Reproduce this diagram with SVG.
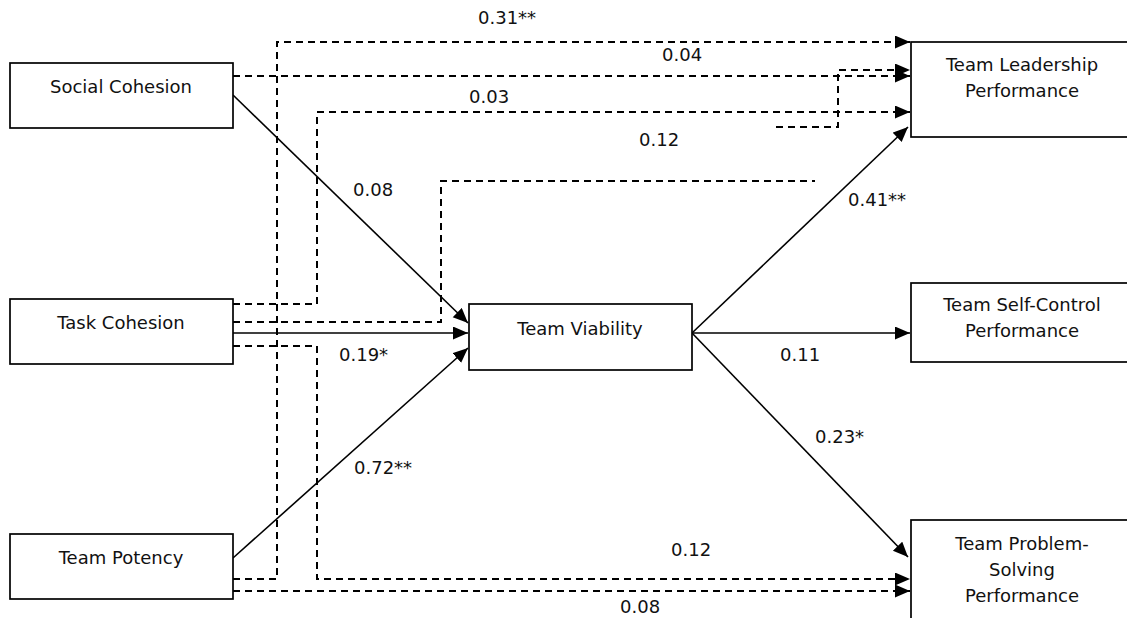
<svg xmlns="http://www.w3.org/2000/svg" width="1127" height="618" viewBox="0 0 1127 618">
<style>
.box{fill:#fff;stroke:#000;stroke-width:1.7}
.t{font-family:"DejaVu Sans",Verdana,sans-serif;font-size:18px;fill:#111;text-anchor:middle}
.lbl{font-family:"DejaVu Sans",Verdana,sans-serif;font-size:18px;fill:#111}
.solid{fill:none;stroke:#000;stroke-width:1.6}
.dash{fill:none;stroke:#000;stroke-width:2;stroke-dasharray:7 5}
</style>
<defs>
<marker id="ah" markerUnits="userSpaceOnUse" markerWidth="16" markerHeight="14" refX="15" refY="6.5" orient="auto">
<path d="M0,0 L15,6.5 L0,13 z" fill="#000"/>
</marker>
</defs>
<g id="connectors">
<path class="solid" d="M233,95 L468,323" marker-end="url(#ah)"/>
<path class="solid" d="M233,333 L468,333" marker-end="url(#ah)"/>
<path class="solid" d="M233,558 L468,348" marker-end="url(#ah)"/>
<path class="solid" d="M692,333 L908,127" marker-end="url(#ah)"/>
<path class="solid" d="M692,333 L910,333" marker-end="url(#ah)"/>
<path class="solid" d="M692,333 L908,557" marker-end="url(#ah)"/>
<path class="dash" d="M233,579 L277,579 L277,42 L910,42" marker-end="url(#ah)"/>
<path class="dash" d="M233,76 L910,76" marker-end="url(#ah)"/>
<path class="dash" d="M233,304 L317,304 L317,112 L910,112" marker-end="url(#ah)"/>
<path class="dash" d="M233,322 L441,322 L441,181 L815,181"/>
<path class="dash" d="M776,127 L838,127 L838,70 L910,70" marker-end="url(#ah)"/>
<path class="dash" d="M233,346 L317,346 L317,579 L910,579" marker-end="url(#ah)"/>
<path class="dash" d="M233,591 L910,591" marker-end="url(#ah)"/>
<text class="lbl" x="478" y="24">0.31**</text>
<text class="lbl" x="662" y="61">0.04</text>
<text class="lbl" x="469" y="103">0.03</text>
<text class="lbl" x="639" y="146">0.12</text>
<text class="lbl" x="353" y="196">0.08</text>
<text class="lbl" x="848" y="206">0.41**</text>
<text class="lbl" x="339" y="361">0.19*</text>
<text class="lbl" x="780" y="361">0.11</text>
<text class="lbl" x="815" y="443">0.23*</text>
<text class="lbl" x="354" y="474">0.72**</text>
<text class="lbl" x="671" y="556">0.12</text>
<text class="lbl" x="620" y="613">0.08</text>
</g>
<g id="social-cohesion"><rect class="box" x="10" y="63" width="223" height="65"/><text class="t" x="121" y="93">Social Cohesion</text></g>
<g id="task-cohesion"><rect class="box" x="10" y="299" width="223" height="65"/><text class="t" x="121" y="329">Task Cohesion</text></g>
<g id="team-potency"><rect class="box" x="10" y="534" width="223" height="65"/><text class="t" x="121" y="564">Team Potency</text></g>
<g id="team-viability"><rect class="box" x="469" y="304" width="223" height="66"/><text class="t" x="580" y="335">Team Viability</text></g>
<g id="team-leadership"><rect class="box" x="911" y="42" width="230" height="95"/><text class="t" x="1022" y="71">Team Leadership</text><text class="t" x="1022" y="97">Performance</text></g>
<g id="team-self-control"><rect class="box" x="911" y="283" width="230" height="79"/><text class="t" x="1022" y="311">Team Self-Control</text><text class="t" x="1022" y="337">Performance</text></g>
<g id="team-problem-solving"><rect class="box" x="911" y="520" width="230" height="110"/><text class="t" x="1022" y="550">Team Problem-</text><text class="t" x="1022" y="576">Solving</text><text class="t" x="1022" y="602">Performance</text></g>
</svg>
